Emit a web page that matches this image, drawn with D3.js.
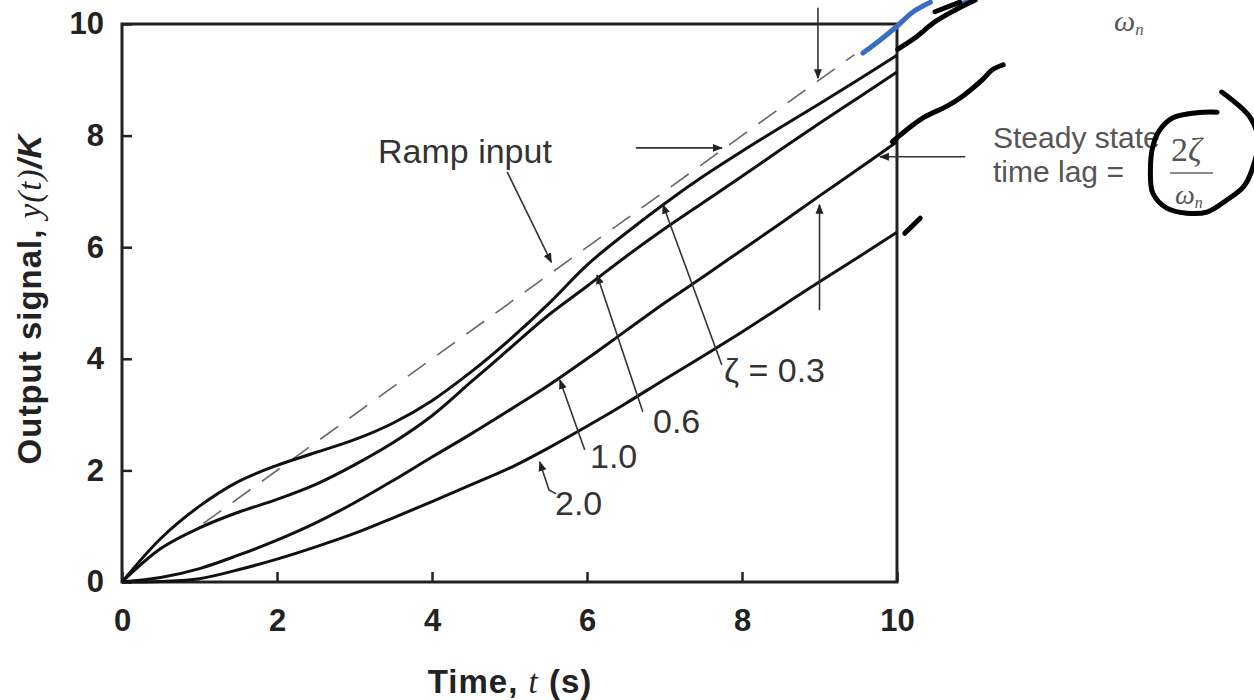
<!DOCTYPE html>
<html>
<head>
<meta charset="utf-8">
<script src="https://cdn.jsdelivr.net/npm/d3@7"></script>
<style>
  body { margin: 0; background: #fff; }
  svg { display: block; font-family: "Liberation Sans", Arial, sans-serif; }
</style>
</head>
<body>
<div id="chart"></div>
<script>
// time axis samples (s)
const times = [0, 0.5, 1, 1.5, 2, 2.5, 3, 3.5, 4, 4.5, 5, 5.5, 6, 6.5, 7, 7.5, 8, 8.5, 9, 9.5, 10];
// y(t)/K, one list per damping ratio
const zeta03 = [0, 0.78, 1.36, 1.80, 2.09, 2.32, 2.55, 2.85, 3.25, 3.76, 4.34, 4.98, 5.68, 6.25, 6.78, 7.27, 7.72, 8.15, 8.57, 9.0, 9.44];
const zeta06 = [0, 0.60, 0.97, 1.25, 1.48, 1.75, 2.10, 2.50, 2.98, 3.58, 4.18, 4.78, 5.30, 5.83, 6.33, 6.80, 7.27, 7.75, 8.22, 8.68, 9.14];
const zeta10 = [0, 0.08, 0.24, 0.48, 0.75, 1.06, 1.42, 1.82, 2.24, 2.65, 3.08, 3.52, 4.0, 4.5, 5.0, 5.47, 5.95, 6.43, 6.92, 7.40, 7.89];
const zeta20 = [0, 0.01, 0.06, 0.22, 0.41, 0.63, 0.87, 1.15, 1.44, 1.74, 2.04, 2.40, 2.79, 3.20, 3.63, 4.05, 4.48, 4.93, 5.38, 5.82, 6.27];
const rampT = [1.05, 9.45];
const rampY = [1.05, 9.45];
const xTicks = [0, 2, 4, 6, 8, 10];
const yTicks = [0, 2, 4, 6, 8, 10];

// pointer arrows, in data units [t, y] ... last point gets the head
const arrows = [
  [[4.97, 7.35], [5.54, 5.73]],            // ramp input
  [[8.98, 10.29], [8.98, 9.03]],           // top, down onto ramp
  [[6.63, 7.78], [7.74, 7.78]],            // horizontal onto zeta 0.3
  [[10.88, 7.62], [9.78, 7.62]],           // steady state lag
  [[9.0, 4.87], [9.0, 6.76]],              // up onto zeta 1.0
  [[7.74, 3.89], [6.98, 6.76]],            // zeta 0.3
  [[6.72, 3.05], [6.13, 5.50]],            // 0.6
  [[5.97, 2.37], [5.65, 3.62]],            // 1.0
  [[5.60, 1.58], [5.51, 1.65], [5.39, 2.15]] // 2.0
];

// hand drawn marks on top of the figure, data units
const blueMark = [[9.56, 9.48], [9.78, 9.71], [10.0, 9.96], [10.21, 10.22], [10.43, 10.39]];
const blueBit = [[10.77, 10.34], [11.0, 10.43]];
const blackTop = [[10.01, 9.55], [10.23, 9.75], [10.49, 10.04], [10.75, 10.25], [11.01, 10.43]];
const blackTop2 = [[10.49, 10.22], [10.81, 10.39]];
const blackMid = [[9.94, 7.89], [10.34, 8.32], [10.62, 8.51], [10.81, 8.67], [11.10, 9.0], [11.23, 9.18], [11.37, 9.27]];
const blackLow = [[10.10, 6.25], [10.30, 6.52]];
const circleMark = [[14.13, 8.42], [13.87, 8.41], [13.56, 8.32], [13.39, 8.10], [13.30, 7.80], [13.27, 7.38],
  [13.30, 6.97], [13.48, 6.70], [13.74, 6.61], [14.0, 6.63], [14.26, 6.85], [14.47, 7.08], [14.58, 7.38],
  [14.66, 7.92], [14.56, 8.32], [14.19, 8.78]];

const width = 1254;
const height = 700;
const x = d3.scaleLinear().domain([0, 10]).range([122, 897]);
const y = d3.scaleLinear().domain([0, 10]).range([582, 24]);

const svg = d3.select('#chart').append('svg')
  .attr('width', width)
  .attr('height', height);

const defs = svg.append('defs');
defs.append('marker')
  .attr('id', 'head')
  .attr('viewBox', '0 0 10 10')
  .attr('refX', 9)
  .attr('refY', 5)
  .attr('markerWidth', 10)
  .attr('markerHeight', 10)
  .attr('markerUnits', 'userSpaceOnUse')
  .attr('orient', 'auto')
  .append('path')
  .attr('d', 'M0,1 L10,5 L0,9 Z')
  .attr('fill', '#222');

// axes, ticks point inward
const gx = svg.append('g')
  .attr('transform', `translate(0,${y(0)})`)
  .call(d3.axisBottom(x).tickValues(xTicks).tickSize(-10).tickPadding(27));
const gy = svg.append('g')
  .attr('transform', `translate(${x(0)},0)`)
  .call(d3.axisLeft(y).tickValues(yTicks).tickSize(-10).tickPadding(18));
[gx, gy].forEach((g) => {
  g.select('.domain').remove();
  g.selectAll('line').attr('stroke', '#222').attr('stroke-width', 2.5);
  g.selectAll('text')
    .attr('font-family', '"Liberation Sans", Arial, sans-serif')
    .attr('font-size', 31)
    .attr('font-weight', 'bold')
    .attr('fill', '#222');
});

// frame
svg.append('rect')
  .attr('x', x(0))
  .attr('y', y(10))
  .attr('width', x(10) - x(0))
  .attr('height', y(0) - y(10))
  .attr('fill', 'none')
  .attr('stroke', '#222')
  .attr('stroke-width', 3);

// ramp input
svg.append('line')
  .attr('x1', x(rampT[0])).attr('y1', y(rampY[0]))
  .attr('x2', x(rampT[1])).attr('y2', y(rampY[1]))
  .attr('stroke', '#666')
  .attr('stroke-width', 1.6)
  .attr('stroke-dasharray', '22,14');

const line = d3.line()
  .x((d) => x(d[0]))
  .y((d) => y(d[1]))
  .curve(d3.curveCatmullRom);

[zeta03, zeta06, zeta10, zeta20].forEach((vals) => {
  svg.append('path')
    .datum(times.map((t, i) => [t, vals[i]]))
    .attr('d', line)
    .attr('fill', 'none')
    .attr('stroke', '#111')
    .attr('stroke-width', 3);
});

// pointers
const straight = d3.line().x((d) => x(d[0])).y((d) => y(d[1]));
svg.append('g')
  .selectAll('path')
  .data(arrows)
  .join('path')
  .attr('d', straight)
  .attr('fill', 'none')
  .attr('stroke', '#333')
  .attr('stroke-width', 1.6)
  .attr('marker-end', 'url(#head)');

// labels
const labels = svg.append('g')
  .attr('font-size', 34)
  .attr('fill', '#333');
labels.append('text').attr('x', 378).attr('y', 163).text('Ramp input');
labels.append('text').attr('x', 724).attr('y', 382).text('ζ = 0.3');
labels.append('text').attr('x', 653).attr('y', 433).text('0.6');
labels.append('text').attr('x', 590).attr('y', 468).text('1.0');
labels.append('text').attr('x', 555).attr('y', 515).text('2.0');

const side = svg.append('g')
  .attr('font-size', 30)
  .attr('fill', '#555');
side.append('text').attr('x', 993).attr('y', 148).text('Steady state');
side.append('text').attr('x', 993).attr('y', 182).text('time lag =');

const serif = svg.append('g')
  .attr('font-family', '"Liberation Serif", "Times New Roman", serif')
  .attr('fill', '#555');
const frac = serif.append('text').attr('x', 1171).attr('y', 161).attr('font-size', 34);
frac.append('tspan').text('2');
frac.append('tspan').attr('font-style', 'italic').text('ζ');
serif.append('line')
  .attr('x1', 1170).attr('x2', 1213).attr('y1', 173).attr('y2', 173)
  .attr('stroke', '#666').attr('stroke-width', 1.5);
const om = serif.append('text').attr('x', 1175).attr('y', 204).attr('font-size', 28).attr('font-style', 'italic');
om.append('tspan').text('ω');
om.append('tspan').attr('font-size', 16).attr('dy', 4).text('n');
const om2 = serif.append('text').attr('x', 1114).attr('y', 31).attr('font-size', 30).attr('font-style', 'italic');
om2.append('tspan').text('ω');
om2.append('tspan').attr('font-size', 17).attr('dy', 4).text('n');

// axis titles
const xt = svg.append('text')
  .attr('x', 510)
  .attr('y', 693)
  .attr('text-anchor', 'middle')
  .attr('font-size', 33)
  .attr('letter-spacing', 1)
  .attr('font-weight', 'bold')
  .attr('fill', '#222');
xt.append('tspan').text('Time, ');
xt.append('tspan').attr('font-family', '"Liberation Serif", serif').attr('font-style', 'italic')
  .attr('font-weight', 'normal').text('t');
xt.append('tspan').text(' (s)');

const yt = svg.append('text')
  .attr('transform', 'translate(41,299) rotate(-90)')
  .attr('text-anchor', 'middle')
  .attr('font-size', 33)
  .attr('letter-spacing', 1)
  .attr('font-weight', 'bold')
  .attr('fill', '#222');
yt.append('tspan').text('Output signal, ');
yt.append('tspan').attr('font-family', '"Liberation Serif", serif').attr('font-style', 'italic')
  .attr('font-weight', 'normal').text('y(t)');
yt.append('tspan').attr('font-style', 'italic').text('/K');

// hand-drawn overlay
const scribble = d3.line()
  .x((d) => x(d[0]))
  .y((d) => y(d[1]))
  .curve(d3.curveCatmullRom);
const marks = svg.append('g')
  .attr('fill', 'none')
  .attr('stroke-linecap', 'round')
  .attr('stroke-linejoin', 'round');
marks.selectAll('path.blue')
  .data([blueMark, blueBit])
  .join('path')
  .attr('class', 'blue')
  .attr('d', scribble)
  .attr('stroke', '#3a6cc4')
  .attr('stroke-width', 5);
marks.selectAll('path.black')
  .data([blackTop, blackTop2, blackMid, blackLow, circleMark])
  .join('path')
  .attr('class', 'black')
  .attr('d', scribble)
  .attr('stroke', '#000')
  .attr('stroke-width', 5);
</script>
</body>
</html>
